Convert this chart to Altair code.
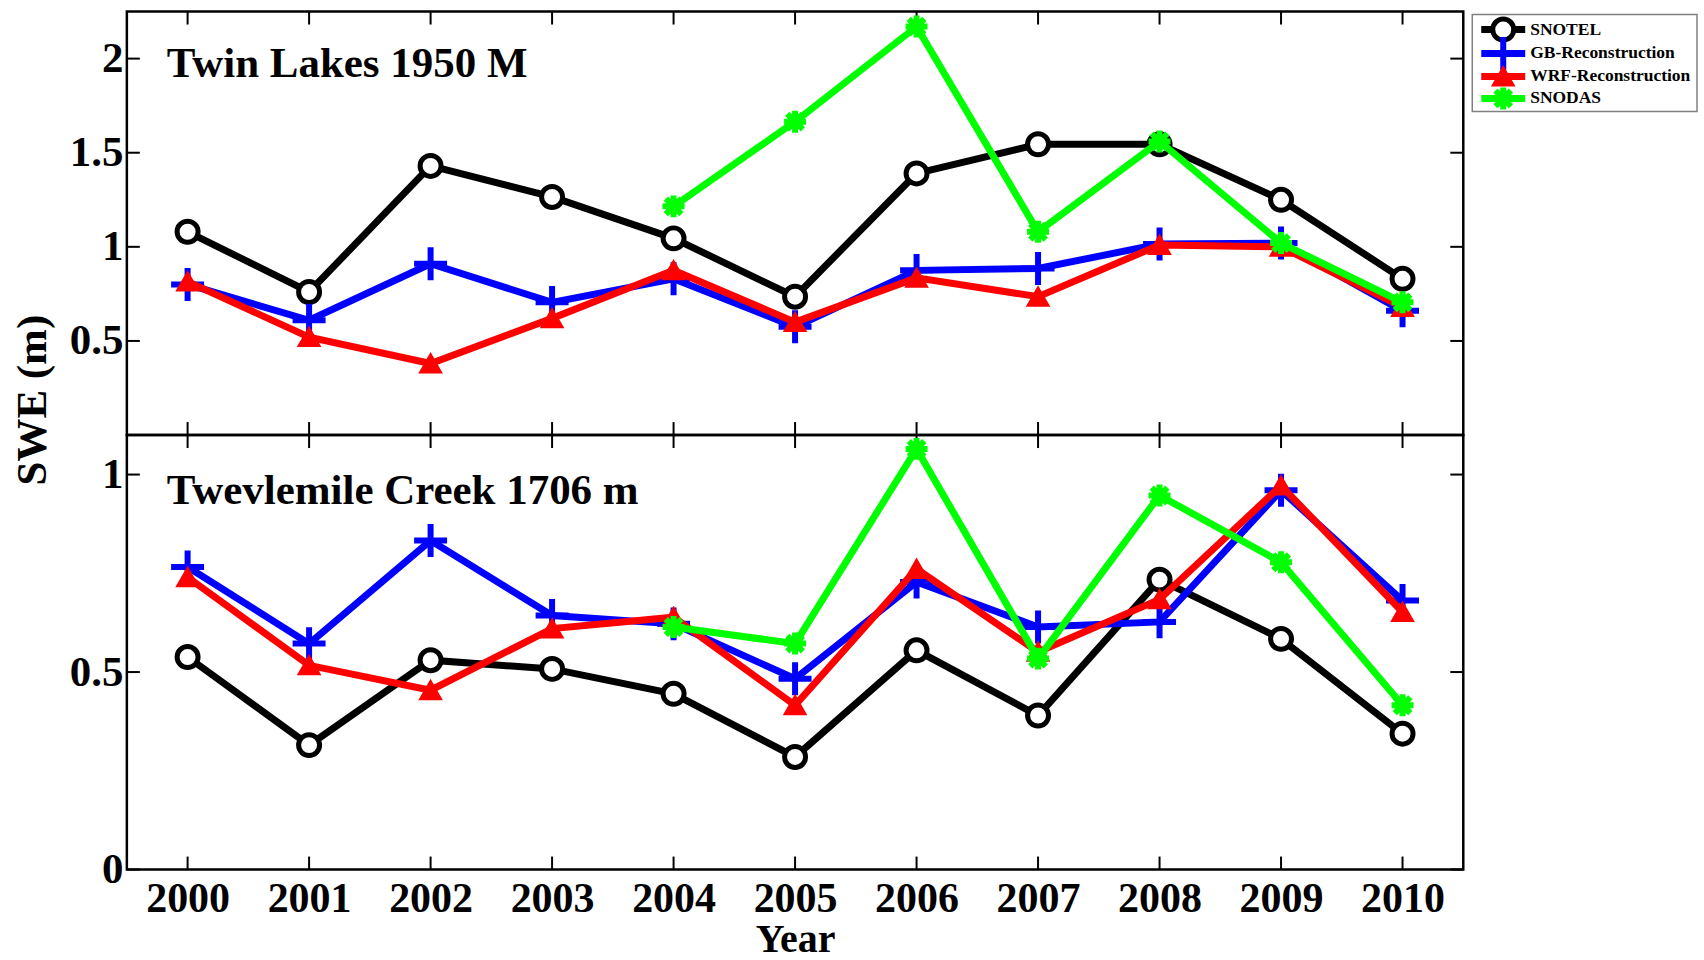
import altair as alt
import pandas as pd

# ---- data -----------------------------------------------------------------
years = list(range(2000, 2011))
series_names = ["SNOTEL", "GB-Reconstruction", "WRF-Reconstruction", "SNODAS"]
series_colors = ["#000000", "#0000ff", "#ff0000", "#00ff00"]

# Twin Lakes, 1950 m: peak SWE (m)
twin_snotel = [1.08, 0.76, 1.43, 1.265, 1.045, 0.735, 1.39, 1.545, 1.545, 1.25, 0.83]
twin_gb = [0.80, 0.61, 0.91, 0.705, 0.83, 0.575, 0.875, 0.885, 1.015, 1.02, 0.66]
twin_wrf = [0.815, 0.52, 0.38, 0.62, 0.875, 0.60, 0.835, 0.735, 1.01, 1.00, 0.68]
twin_snodas = [None, None, None, None, 1.215, 1.665, 2.17, 1.08, 1.56, 1.02, 0.705]

# Twelvemile Creek, 1706 m: peak SWE (m)
twelve_snotel = [0.538, 0.315, 0.53, 0.508, 0.445, 0.285, 0.555, 0.39, 0.734, 0.584, 0.344]
twelve_gb = [0.766, 0.572, 0.833, 0.643, 0.622, 0.483, 0.728, 0.614, 0.627, 0.96, 0.681]
twelve_wrf = [0.74, 0.517, 0.454, 0.61, 0.639, 0.416, 0.761, 0.551, 0.684, 0.972, 0.652]
twelve_snodas = [None, None, None, None, 0.614, 0.572, 1.065, 0.534, 0.947, 0.778, 0.416]

top_ticks = [0.5, 1, 1.5, 2]
bottom_ticks = [0, 0.5, 1]

# ---- styling --------------------------------------------------------------
FONT = "Liberation Serif"
W = 1338
H_TOP = 424
H_BOT = 435
TICK = 13

PLUS = "M-1,0H1M0,-1V1"
ASTERISK = "M-1,0H1M0,-1V1M-0.71,-0.71L0.71,0.71M-0.71,0.71L0.71,-0.71"
markers = [
    dict(shape="circle", size=441, filled=True, fill="white", stroke="#000000", strokeWidth=5),
    dict(shape=PLUS, size=1089, filled=False, stroke="#0000ff", strokeWidth=6),
    dict(shape="triangle-up", size=380, filled=True, fill="#ff0000", stroke="#ff0000", strokeWidth=3),
    dict(shape=ASTERISK, size=484, filled=False, stroke="#00ff00", strokeWidth=6),
]

x_scale = alt.Scale(domain=[1999.5, 2010.5], nice=False, zero=False)


def y_axis(values):
    return alt.Axis(values=values, format="~g", ticks=False, domain=False, grid=False,
                    title=None, labelFont=FONT, labelFontWeight="bold", labelFontSize=43,
                    labelColor="black", labelPadding=4, labelOverlap=False)


x_axis_bottom = alt.Axis(values=years, format="d", ticks=False, domain=False, grid=False,
                         labelFont=FONT, labelFontWeight="bold", labelFontSize=42,
                         labelColor="black", labelPadding=9, labelOverlap=False,
                         labelFlush=False, title="Year", titleFont=FONT,
                         titleFontWeight="bold", titleFontSize=40, titleColor="black",
                         titlePadding=0)


def panel(series_values, ymax, yticks, label, label_y, height, x_axis, extra=()):
    y_scale = alt.Scale(domain=[0, ymax], nice=False, zero=True)
    X = alt.X("year:Q", scale=x_scale, axis=x_axis)
    Y = alt.Y("swe:Q", scale=y_scale, axis=y_axis(yticks))
    layers = []

    # inward tick marks on all four edges
    xt = alt.Chart(pd.DataFrame({"year": years}))
    yt = alt.Chart(pd.DataFrame({"swe": yticks}))
    tick_style = dict(color="black", strokeWidth=2)
    layers.append(xt.mark_rule(**tick_style).encode(x=X, y=alt.value(height), y2=alt.value(height - TICK)))
    layers.append(xt.mark_rule(**tick_style).encode(x=X, y=alt.value(0), y2=alt.value(TICK)))
    layers.append(yt.mark_rule(**tick_style).encode(y=Y, x=alt.value(0), x2=alt.value(TICK)))
    layers.append(yt.mark_rule(**tick_style).encode(y=Y, x=alt.value(W), x2=alt.value(W - TICK)))

    # series: line then markers, drawn in legend order
    for color, vals, mk in zip(series_colors, series_values, markers):
        df = pd.DataFrame({"year": years, "swe": vals}).dropna()
        base = alt.Chart(df).encode(x=X, y=Y)
        layers.append(base.mark_line(color=color, strokeWidth=7))
        layers.append(base.mark_point(opacity=1, **mk))

    # station label
    layers.append(
        alt.Chart(pd.DataFrame({"label": [label]}))
        .mark_text(align="left", baseline="middle", font=FONT, fontWeight="bold",
                   fontSize=43, color="black")
        .encode(x=alt.value(40), y=alt.value(label_y), text="label:N")
    )
    layers.extend(extra)
    return alt.layer(*layers).properties(width=W, height=height)


# legend box to the right of the upper panel
legend_layers = [
    alt.Chart(pd.DataFrame({"k": [0]}))
    .mark_rect(fill="white", stroke="#808080", strokeWidth=1.5)
    .encode(x=alt.value(1347), x2=alt.value(1572), y=alt.value(3), y2=alt.value(100))
]
legend_rows = [18, 42, 65, 87]
for name, color, mk, ly in zip(series_names, series_colors, markers, legend_rows):
    one = alt.Chart(pd.DataFrame({"series": [name]}))
    legend_layers.append(one.mark_rule(color=color, strokeWidth=7)
                         .encode(x=alt.value(1356), x2=alt.value(1400), y=alt.value(ly)))
    legend_layers.append(one.mark_point(opacity=1, **mk)
                         .encode(x=alt.value(1378), y=alt.value(ly)))
    legend_layers.append(one.mark_text(align="left", baseline="middle", font=FONT,
                                       fontWeight="bold", fontSize=17.5, color="black")
                         .encode(x=alt.value(1405), y=alt.value(ly), text="series:N"))

# shared y-axis title spanning both panels
y_title = (
    alt.Chart(pd.DataFrame({"t": ["SWE (m)"]}))
    .mark_text(angle=270, align="center", baseline="middle", font=FONT,
               fontWeight="bold", fontSize=43, color="black")
    .encode(x=alt.value(-94), y=alt.value(389), text="t:N")
)

top = panel([twin_snotel, twin_gb, twin_wrf, twin_snodas], 2.25, top_ticks,
            "Twin Lakes 1950 M", 53, H_TOP, None, extra=legend_layers + [y_title])
bottom = panel([twelve_snotel, twelve_gb, twelve_wrf, twelve_snodas], 1.1, bottom_ticks,
               "Twevlemile Creek 1706 m", 56, H_BOT, x_axis_bottom)

chart = (
    alt.vconcat(top, bottom, spacing=0, bounds="flush")
    .properties(padding={"left": 10, "top": 1, "right": 5, "bottom": 2}, background="white")
    .configure_view(stroke="black", strokeWidth=2.5)
)

chart.save("out.html", embed_options={"renderer": "svg", "actions": False})
